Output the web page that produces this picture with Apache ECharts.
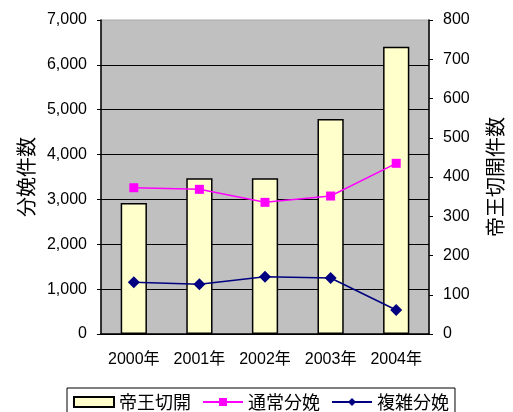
<!DOCTYPE html>
<html>
<head>
<meta charset="utf-8">
<script src="https://cdn.jsdelivr.net/npm/echarts@6/dist/echarts.min.js"></script>
<style>
  html, body { margin: 0; padding: 0; background: #fff; }
  #chart { width: 513px; height: 412px; }
</style>
</head>
<body>
<div id="chart"></div>
<script>
// Yearly delivery counts
const years = ['2000年', '2001年', '2002年', '2003年', '2004年'];
const caesarean = [334, 397, 397, 548, 732];        // 帝王切開 (right axis)
const normalBirth = [3261, 3225, 2935, 3076, 3805]; // 通常分娩 (left axis)
const complexBirth = [1152, 1107, 1277, 1248, 535]; // 複雑分娩 (left axis)

const FONT = '"Liberation Sans", "Noto Sans CJK JP", sans-serif';
const CJK = '"Noto Sans CJK JP", sans-serif';

const chart = echarts.init(document.getElementById('chart'), null, { renderer: 'canvas' });

chart.setOption({
  animation: false,
  backgroundColor: '#ffffff',
  grid: {
    left: 101, right: 76, top: 20, bottom: 78,
    show: true,
    backgroundColor: '#C0C0C0',
    borderColor: '#A8A8A8',
    borderWidth: 1
  },
  legend: {
    left: 67, top: 388,
    padding: [5, 6, 8, 6],
    itemWidth: 40, itemHeight: 10,
    itemGap: 11,
    borderColor: '#000', borderWidth: 1,
    backgroundColor: '#fff',
    textStyle: { fontFamily: CJK, fontSize: 18, color: '#000' },
    data: [
      { name: '帝王切開', icon: 'rect' },
      { name: '通常分娩' },
      { name: '複雑分娩' }
    ]
  },
  xAxis: {
    type: 'category',
    data: years,
    boundaryGap: true,
    axisLine: { lineStyle: { color: '#000', width: 1.5 } },
    axisTick: { inside: true, length: 4, lineStyle: { color: '#000' } },
    axisLabel: { interval: 0, color: '#000', fontFamily: FONT, fontSize: 16, margin: 18 },
    splitLine: { show: false }
  },
  yAxis: [
    {
      type: 'value',
      min: 0, max: 7000, interval: 1000,
      name: '分娩件数',
      nameLocation: 'middle',
      nameRotate: 90,
      nameGap: 64,
      nameTextStyle: { fontFamily: CJK, fontSize: 20, color: '#000' },
      axisLine: { show: true, lineStyle: { color: '#000', width: 1.5 } },
      axisTick: { show: true, length: 4, lineStyle: { color: '#000' } },
      axisLabel: {
        color: '#000', fontFamily: FONT, fontSize: 16, margin: 14,
        formatter: v => v.toLocaleString('en-US')
      },
      splitLine: { show: true, showMaxLine: false, lineStyle: { color: '#000', width: 1 } }
    },
    {
      type: 'value',
      min: 0, max: 800, interval: 100,
      name: '帝王切開件数',
      nameLocation: 'middle',
      nameRotate: 90,
      nameGap: 56,
      nameTextStyle: { fontFamily: CJK, fontSize: 20, color: '#000' },
      axisLine: { show: true, lineStyle: { color: '#000', width: 1.5 } },
      axisTick: { show: true, length: 4, lineStyle: { color: '#000' } },
      axisLabel: { color: '#000', fontFamily: FONT, fontSize: 16, margin: 14 },
      splitLine: { show: false }
    }
  ],
  series: [
    {
      name: '帝王切開',
      type: 'bar',
      yAxisIndex: 1,
      data: caesarean,
      barWidth: '40%',
      itemStyle: { color: '#FFFFCC', borderColor: '#000', borderWidth: 1.5 },
      z: 2
    },
    {
      name: '通常分娩',
      type: 'line',
      yAxisIndex: 0,
      data: normalBirth,
      symbol: 'rect',
      symbolSize: 9,
      lineStyle: { color: '#FF00FF', width: 1.5 },
      itemStyle: { color: '#FF00FF' },
      z: 3
    },
    {
      name: '複雑分娩',
      type: 'line',
      yAxisIndex: 0,
      data: complexBirth,
      symbol: 'diamond',
      symbolSize: 12,
      lineStyle: { color: '#000080', width: 1.5 },
      itemStyle: { color: '#000080' },
      z: 3
    }
  ]
});
</script>
</body>
</html>
